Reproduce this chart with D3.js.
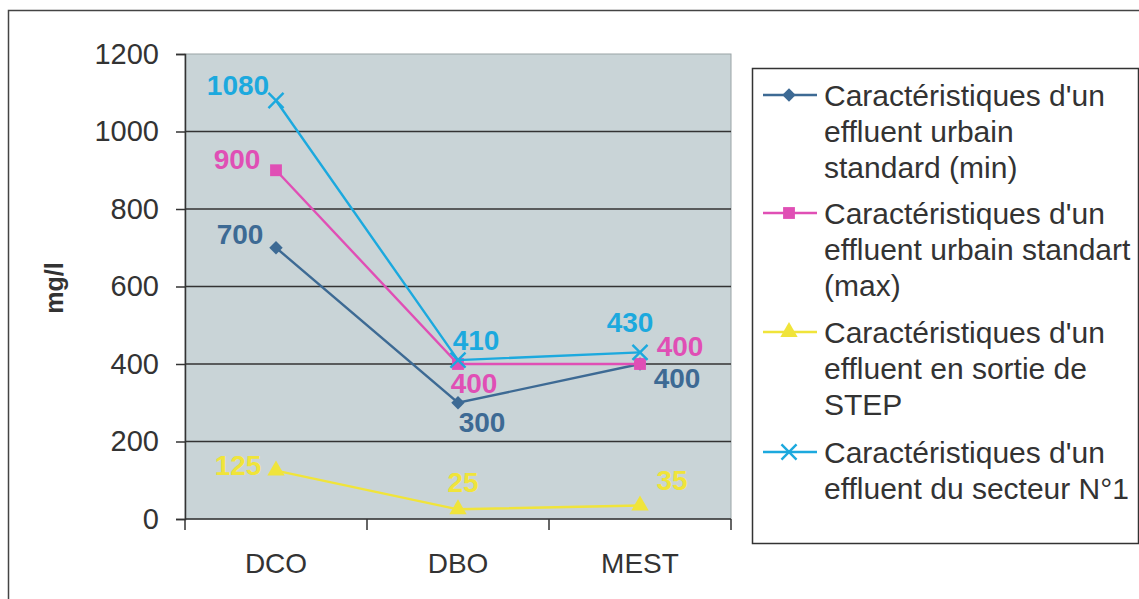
<!DOCTYPE html>
<html>
<head>
<meta charset="utf-8">
<script src="https://cdn.jsdelivr.net/npm/d3@7"></script>
<style>
  body { margin: 0; background: #fff; }
  text { font-family: "Liberation Sans", Arial, sans-serif; }
</style>
</head>
<body>
<div id="chart-area"></div>
<script>
// data
const categories = ['DCO', 'DBO', 'MEST'];
const minUrbain = [700, 300, 400];
const maxUrbain = [900, 400, 400];
const sortieStep = [125, 25, 35];
const secteur1 = [1080, 410, 430];
const yTicks = [0, 200, 400, 600, 800, 1000, 1200];

const series = [
  { name: ["Caractéristiques d'un", 'effluent urbain', 'standard (min)'], values: minUrbain,
    color: '#3d6a94', symbol: 'diamond', labelOff: [[-36, -14], [24, 19], [37, 14]] },
  { name: ["Caractéristiques d'un", 'effluent urbain standart', '(max)'], values: maxUrbain,
    color: '#e04fb5', symbol: 'square', labelOff: [[-39, -11], [16, 19], [40, -18]] },
  { name: ["Caractéristiques d'un", 'effluent en sortie de', 'STEP'], values: sortieStep,
    color: '#f0e43a', symbol: 'triangle', labelOff: [[-38, -5], [5, -27], [32, -25]] },
  { name: ["Caractéristiques d'un", 'effluent du secteur N°1'], values: secteur1,
    color: '#1ca9de', symbol: 'cross', labelOff: [[-38, -15], [18, -20], [-10, -30]] }
];

const W = 1139, H = 599;
const margin = { left: 185, top: 54, right: 408, bottom: 80 };
const width = W - margin.left - margin.right;
const height = H - margin.top - margin.bottom;

const svg = d3.select('#chart-area').append('svg')
  .attr('width', W)
  .attr('height', H);

// outer frame
svg.append('rect')
  .attr('x', 8.5).attr('y', 10.5)
  .attr('width', W + 20).attr('height', H + 20)
  .attr('fill', 'none').attr('stroke', '#444').attr('stroke-width', 1.5);

const g = svg.append('g')
  .attr('transform', `translate(${margin.left},${margin.top})`);

const x = d3.scaleBand()
  .domain(categories)
  .range([0, width]);

const y = d3.scaleLinear()
  .domain([0, 1200])
  .range([height, 0]);

// plot background
g.append('rect')
  .attr('width', width).attr('height', height)
  .attr('fill', '#c9d4d7')
  .attr('stroke', '#9aa4a6');

// gridlines
g.append('g')
  .selectAll('line')
  .data(yTicks.filter(d => d > 0 && d < 1200))
  .enter().append('line')
  .attr('x1', 0).attr('x2', width)
  .attr('y1', d => y(d)).attr('y2', d => y(d))
  .attr('stroke', '#333').attr('stroke-width', 1.4);

// axes
const axisLeft = d3.axisLeft(y).tickValues(yTicks).tickFormat(d3.format('d')).tickSize(9).tickPadding(17);
const yAxis = g.append('g').attr('class', 'y-axis').call(axisLeft)
  .attr('font-family', null).attr('font-size', null);
yAxis.select('.domain').attr('stroke', '#333').attr('stroke-width', 1.5);
yAxis.selectAll('line').attr('stroke', '#333').attr('stroke-width', 1.5);
yAxis.selectAll('text')
  .attr('font-size', '29px').attr('fill', '#333');

const xAxis = g.append('g')
  .attr('class', 'x-axis')
  .attr('transform', `translate(0, ${height})`);
xAxis.append('line')
  .attr('x1', 0).attr('x2', width)
  .attr('stroke', '#333').attr('stroke-width', 1.5);
xAxis.selectAll('.tk')
  .data(d3.range(categories.length + 1))
  .enter().append('line')
  .attr('x1', i => i * x.bandwidth()).attr('x2', i => i * x.bandwidth())
  .attr('y1', 0).attr('y2', 11)
  .attr('stroke', '#333').attr('stroke-width', 1.5);
xAxis.selectAll('.lbl')
  .data(categories)
  .enter().append('text')
  .attr('x', d => x(d) + x.bandwidth() / 2)
  .attr('y', 54)
  .attr('text-anchor', 'middle')
  .attr('font-size', '28px')
  .attr('fill', '#333')
  .text(d => d);

// y axis title
svg.append('text')
  .attr('transform', 'translate(63, 288) rotate(-90)')
  .attr('text-anchor', 'middle')
  .attr('font-size', '25px')
  .attr('font-weight', 'bold')
  .attr('fill', '#333')
  .text('mg/l');

const cx = (d, i) => x(categories[i]) + x.bandwidth() / 2;

const symbolType = {
  diamond: d3.symbolSquare,
  square: d3.symbolSquare,
  triangle: d3.symbolTriangle,
  cross: d3.symbolTimes
};
const symbolSize = { diamond: 90, square: 140, triangle: 130, cross: 150 };

function drawMarker(sel, s) {
  const path = d3.symbol().type(symbolType[s.symbol]).size(symbolSize[s.symbol])();
  sel.append('path')
    .attr('d', path)
    .attr('transform', s.symbol === 'diamond' ? 'rotate(45)' : null)
    .attr('fill', s.symbol === 'cross' ? 'none' : s.color)
    .attr('stroke', s.color)
    .attr('stroke-width', s.symbol === 'cross' ? 2.4 : 0);
}

const line = d3.line()
  .x(cx)
  .y(d => y(d));

series.forEach(s => {
  const sg = g.append('g');
  sg.append('path')
    .datum(s.values)
    .attr('d', line)
    .attr('fill', 'none')
    .attr('stroke', s.color)
    .attr('stroke-width', 2.4);

  sg.selectAll('.pt')
    .data(s.values)
    .enter().append('g')
    .attr('transform', (d, i) => `translate(${cx(d, i)},${y(d)})`)
    .each(function () { drawMarker(d3.select(this), s); });

  sg.selectAll('.val')
    .data(s.values)
    .enter().append('text')
    .attr('x', (d, i) => cx(d, i) + s.labelOff[i][0])
    .attr('y', (d, i) => y(d) + s.labelOff[i][1])
    .attr('dy', '0.35em')
    .attr('text-anchor', 'middle')
    .attr('font-size', '28px')
    .attr('font-weight', 'bold')
    .attr('fill', s.color)
    .text(d => d);
});

// legend
const legend = svg.append('g');
legend.append('rect')
  .attr('x', 752.5).attr('y', 68.5)
  .attr('width', 386).attr('height', 475)
  .attr('fill', '#fff').attr('stroke', '#333').attr('stroke-width', 1.5);

const entryTop = [95, 213, 332, 452];
series.forEach((s, k) => {
  const ly = entryTop[k];
  const eg = legend.append('g');
  eg.append('line')
    .attr('x1', 763).attr('x2', 817)
    .attr('y1', ly).attr('y2', ly)
    .attr('stroke', s.color).attr('stroke-width', 2.4);
  drawMarker(eg.append('g').attr('transform', `translate(789,${ly})`), s);
  eg.selectAll('text')
    .data(s.name)
    .enter().append('text')
    .attr('x', 824)
    .attr('y', (d, i) => ly + i * 36)
    .attr('dy', '0.35em')
    .attr('font-size', '30px')
    .attr('fill', '#333')
    .text(d => d);
});
</script>
</body>
</html>
